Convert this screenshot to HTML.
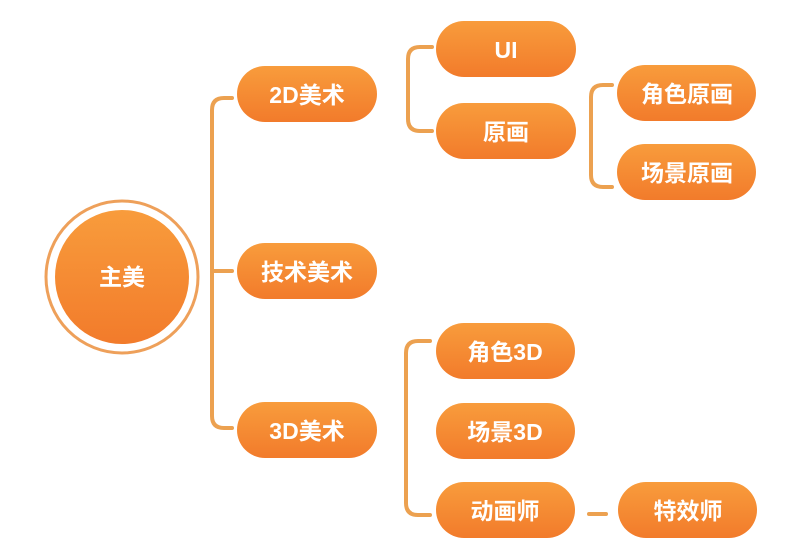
<!DOCTYPE html>
<html><head><meta charset="utf-8"><style>
html,body{margin:0;padding:0;background:#fff;}
svg{display:block;}
text{font-family:"Liberation Sans","Noto Sans CJK SC",sans-serif;font-weight:bold;fill:#fff;font-size:23px;text-anchor:middle;dominant-baseline:central;}
</style></head><body>
<svg width="800" height="558" viewBox="0 0 800 558" xmlns="http://www.w3.org/2000/svg">
<defs>
<linearGradient id="g" x1="0" y1="0" x2="0" y2="1">
<stop offset="0" stop-color="#f89c3c"/><stop offset="1" stop-color="#f27b2b"/>
</linearGradient>
</defs>
<g fill="none" stroke="#eca150" stroke-width="4" stroke-linecap="round">
<path d="M232 98 H224 Q212 98 212 110 V416 Q212 428 224 428 H232"/>
<path d="M212 271 H232"/>
<path d="M432 47 H420 Q408 47 408 59 V119 Q408 131 420 131 H432"/>
<path d="M612 85 H603 Q591 85 591 97 V175 Q591 187 603 187 H612"/>
<path d="M430 341 H418 Q406 341 406 353 V503 Q406 515 418 515 H430"/>
<path d="M589 514 H606"/>
</g>
<circle cx="122" cy="277" r="76" fill="none" stroke="#eea05a" stroke-width="3"/>
<circle cx="122" cy="277" r="67" fill="url(#g)"/>
<text x="122" y="277" font-size="25">主美</text>
<g fill="url(#g)">
<rect x="237" y="66" width="140" height="56" rx="28"/>
<rect x="237" y="243" width="140" height="56" rx="28"/>
<rect x="237" y="402" width="140" height="56" rx="28"/>
<rect x="436" y="21" width="140" height="56" rx="28"/>
<rect x="436" y="103" width="140" height="56" rx="28"/>
<rect x="617" y="65" width="139" height="56" rx="28"/>
<rect x="617" y="144" width="139" height="56" rx="28"/>
<rect x="436" y="323" width="139" height="56" rx="28"/>
<rect x="436" y="403" width="139" height="56" rx="28"/>
<rect x="436" y="482" width="139" height="56" rx="28"/>
<rect x="618" y="482" width="139" height="56" rx="28"/>
</g>
<text x="307" y="95">2D美术</text>
<text x="307" y="272">技术美术</text>
<text x="307" y="431">3D美术</text>
<text x="506" y="50">UI</text>
<text x="506" y="132">原画</text>
<text x="687" y="94">角色原画</text>
<text x="687" y="173">场景原画</text>
<text x="505" y="352">角色3D</text>
<text x="505" y="432">场景3D</text>
<text x="505" y="511">动画师</text>
<text x="688" y="511">特效师</text>
</svg>
</body></html>
